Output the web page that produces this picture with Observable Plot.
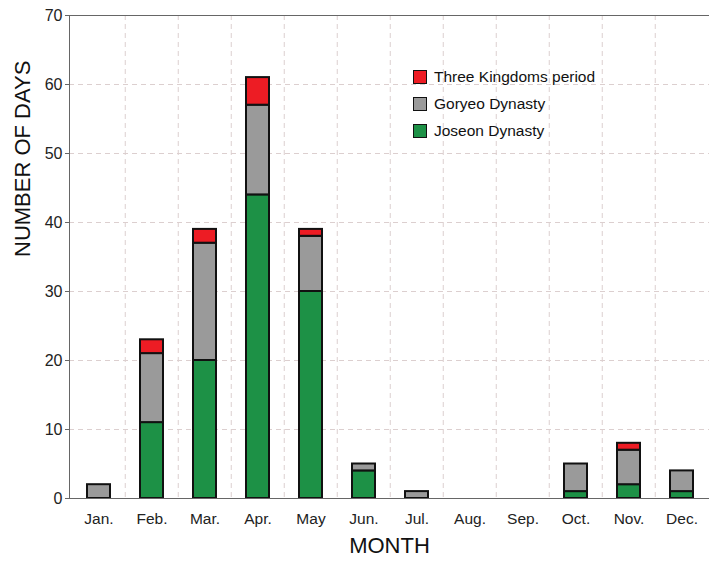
<!DOCTYPE html>
<html><head><meta charset="utf-8">
<script src="https://cdn.jsdelivr.net/npm/d3@7"></script>
<script src="https://cdn.jsdelivr.net/npm/@observablehq/plot@0.6"></script>
<style>
body{margin:0;background:#fff;font-family:"Liberation Sans",Arial,sans-serif}
#wrap{position:relative;width:709px;height:565px;overflow:hidden}
#legend{position:absolute;left:413px;top:63px;font-size:15.5px;color:#111}
#legend .row{display:flex;align-items:center;height:27px}
#legend .sw{width:12px;height:12px;border:1.5px solid #111;margin-right:7px;box-sizing:content-box}
</style></head><body><div id="wrap"><div id="legend"></div></div>
<script>
const months = ["Jan.","Feb.","Mar.","Apr.","May","Jun.","Jul.","Aug.","Sep.","Oct.","Nov.","Dec."];
const series = ["Joseon Dynasty","Goryeo Dynasty","Three Kingdoms period"];
const joseon = [0,11,20,44,30,4,0,0,0,1,2,1];
const goryeo = [2,10,17,13,8,1,1,0,0,4,5,3];
const threeKingdoms = [0,2,2,4,1,0,0,0,0,0,1,0];
const colors = ["#1d9146","#9a9a9a","#ed1c24"];
const yTicks = [0,10,20,30,40,50,60,70];
const legendOrder = ["Three Kingdoms period","Goryeo Dynasty","Joseon Dynasty"];

const values = [joseon, goryeo, threeKingdoms];
const rows = [];
months.forEach((m, i) => series.forEach((s, j) => {
  if (values[j][i] > 0) rows.push({month: m, series: s, value: values[j][i]});
}));

const font = '"Liberation Sans", Arial, sans-serif';
const grid = {stroke: "#dccfcf", strokeDasharray: "5,4", strokeWidth: 1};
const chart = Plot.plot({
  width: 709, height: 565,
  marginTop: 15, marginBottom: 67, marginLeft: 69, marginRight: 0,
  style: {fontFamily: font, fontSize: "15px", color: "#222", background: "#fff"},
  x: {domain: months, range: [69, 711], paddingInner: 0.57, paddingOuter: 0.285},
  y: {domain: [0, 70]},
  color: {domain: series, range: colors},
  marks: [
    Plot.ruleY(yTicks.filter(t => t > 0 && t < 70), grid),
    Plot.ruleX(months.slice(1), {x: d => d, dx: -26.75, ...grid}),
    Plot.barY(rows, Plot.stackY({order: series}, {x: "month", y: "value", fill: "series", stroke: "#111", strokeWidth: 2})),
    Plot.frame({anchor: "top", stroke: "#666"}),
    Plot.frame({anchor: "left", stroke: "#666"}),
    Plot.frame({anchor: "bottom", stroke: "#666"}),
    Plot.axisY({ticks: yTicks, tickSize: 4, tickPadding: 3, fontSize: 16, stroke: "#666", label: null}),
    Plot.axisX({tickSize: 0, tickPadding: 14, fontSize: 15.5, label: null}),
    Plot.text(["NUMBER OF DAYS"], {frameAnchor: "left", dx: -47, rotate: -90, fontSize: 22, fill: "#111"}),
    Plot.text(["MONTH"], {frameAnchor: "bottom", dy: 54, fontSize: 22, fill: "#111"})
  ]
});
document.getElementById("wrap").prepend(chart);

const legend = document.getElementById("legend");
legendOrder.forEach(s => {
  const row = document.createElement("div");
  row.className = "row";
  const sw = document.createElement("div");
  sw.className = "sw";
  sw.style.background = colors[series.indexOf(s)];
  const t = document.createElement("span");
  t.textContent = s;
  row.append(sw, t);
  legend.append(row);
});
</script>
</body></html>
